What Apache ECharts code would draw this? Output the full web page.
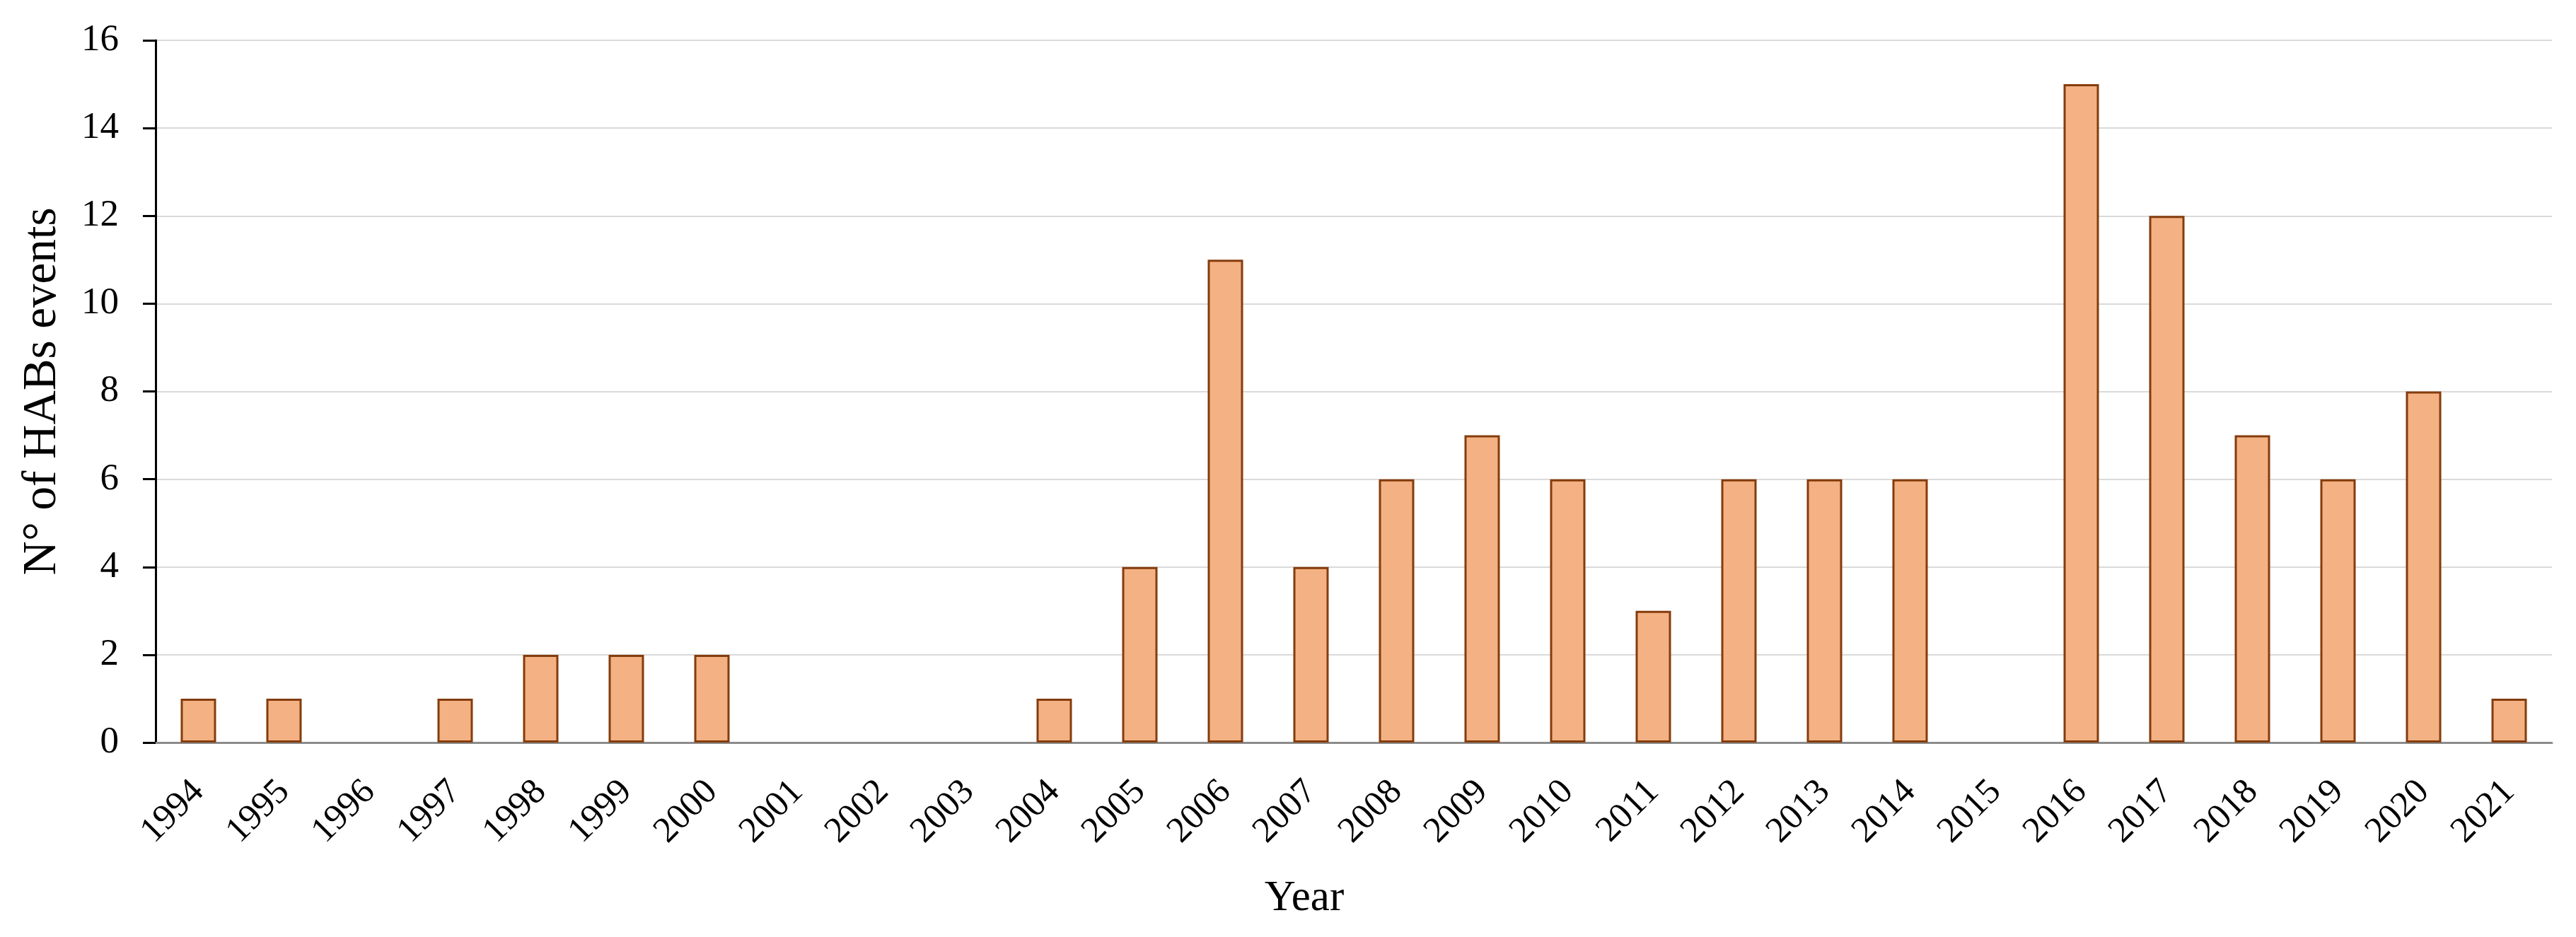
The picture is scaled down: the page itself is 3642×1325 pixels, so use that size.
<!DOCTYPE html>
<html>
<head>
<meta charset="utf-8">
<script src="https://cdn.jsdelivr.net/npm/echarts@6/dist/echarts.min.js"></script>
<style>
html,body{margin:0;padding:0;background:#fff;}
#chart{width:3642px;height:1325px;}
</style>
</head>
<body>
<div id="chart"></div>
<script>
const years = ['1994','1995','1996','1997','1998','1999','2000','2001','2002','2003','2004','2005','2006','2007','2008','2009','2010','2011','2012','2013','2014','2015','2016','2017','2018','2019','2020','2021'];
const habEvents = [1,1,0,1,2,2,2,0,0,0,1,4,11,4,6,7,6,3,6,6,6,0,15,12,7,6,8,1];
const yAxisTitle = 'N° of HABs events';
const xAxisTitle = 'Year';

const FONT = '"Liberation Serif", "DejaVu Serif", serif';
const barData = habEvents.map(v => v === 0 ? {value: v, itemStyle: {borderWidth: 0}} : v);

const chart = echarts.init(document.getElementById('chart'), null, {renderer:'canvas'});
chart.setOption({
  backgroundColor: '#ffffff',
  animation: false,
  grid: {left: 220, right: 34, top: 57, bottom: 275, containLabel: false},
  xAxis: {
    type: 'category',
    data: years,
    name: xAxisTitle,
    nameLocation: 'middle',
    nameGap: 190,
    nameTextStyle: {fontFamily: FONT, fontSize: 61, color: '#000', padding: [0, 140, 0, 0]},
    axisLine: {show: true, lineStyle: {color: '#8c8c8c', width: 3}},
    axisTick: {show: false},
    axisLabel: {rotate: 45, margin: 62, fontFamily: FONT, fontSize: 51, color: '#000', interval: 0}
  },
  yAxis: {
    type: 'value',
    min: 0, max: 16, interval: 2,
    name: yAxisTitle,
    nameLocation: 'middle',
    nameRotate: 90,
    nameGap: 126,
    nameTextStyle: {fontFamily: FONT, fontSize: 67, color: '#000'},
    axisLine: {show: true, lineStyle: {color: '#000', width: 3}},
    axisTick: {show: true, inside: false, length: 18, lineStyle: {color: '#000', width: 3}},
    axisLabel: {margin: 52, fontFamily: FONT, fontSize: 53, color: '#000'},
    splitLine: {show: true, lineStyle: {color: '#dadada', width: 2}}
  },
  series: [{
    type: 'bar',
    data: barData,
    barWidth: 50,
    itemStyle: {color: '#F4B183', borderColor: '#843C0C', borderWidth: 3}
  }]
});
</script>
</body>
</html>
